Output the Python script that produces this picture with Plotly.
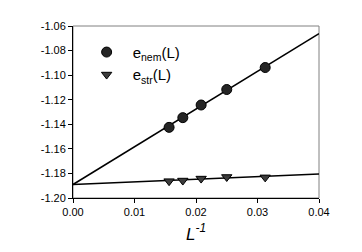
import plotly.graph_objects as go

inv_L = [1/64, 1/56, 1/48, 1/40, 1/32]
e_nem = [-1.1425, -1.1346, -1.1243, -1.1117, -1.0938]
e_str = [-1.1863, -1.1858, -1.1842, -1.1829, -1.1832]

fit_x = [0.0, 0.04]
fit_nem = [-1.1890, -1.0663]
fit_str = [-1.1890, -1.1805]

x_ticks = [0.00, 0.01, 0.02, 0.03, 0.04]
y_ticks = [-1.20, -1.18, -1.16, -1.14, -1.12, -1.10, -1.08, -1.06]

fig = go.Figure()
fig.add_trace(go.Scatter(x=fit_x, y=fit_nem, mode="lines",
                         line=dict(color="black", width=1.5), showlegend=False, hoverinfo="skip"))
fig.add_trace(go.Scatter(x=fit_x, y=fit_str, mode="lines",
                         line=dict(color="black", width=1.5), showlegend=False, hoverinfo="skip"))
fig.add_trace(go.Scatter(x=inv_L, y=e_nem, mode="markers", name="e<sub>nem</sub>(L)",
                         marker=dict(symbol="circle", size=10, color="#252525",
                                     line=dict(color="black", width=1))))
fig.add_trace(go.Scatter(x=inv_L, y=e_str, mode="markers", name="e<sub>str</sub>(L)",
                         marker=dict(symbol="triangle-down", size=9, color="#3c3c3c",
                                     line=dict(color="black", width=1))))

font = "Liberation Sans, Arial, sans-serif"
fig.update_layout(
    width=354, height=244,
    margin=dict(l=65, r=43, t=15, b=52),
    paper_bgcolor="white", plot_bgcolor="white",
    font=dict(family=font, size=11, color="black"),
    legend=dict(x=0.031, y=0.943, xanchor="left", yanchor="top",
                bgcolor="rgba(0,0,0,0)", font=dict(size=15, family=font),
                itemwidth=42),
    xaxis=dict(range=[0, 0.04], tickvals=x_ticks, ticktext=[f"{v:.2f}" for v in x_ticks],
               showgrid=False, zeroline=False, showline=True, linecolor="black", linewidth=1,
               ticks="outside", ticklen=4, tickcolor="black",
               title=dict(text="<i>L</i><sup><i>-1</i></sup>", font=dict(size=17, family=font), standoff=10)),
    yaxis=dict(range=[-1.20, -1.06], tickvals=y_ticks, ticktext=[f"{v:.2f}" for v in y_ticks],
               showgrid=False, zeroline=False, showline=True, linecolor="black", linewidth=1,
               ticks="outside", ticklen=4, tickcolor="black"),
    shapes=[dict(type="rect", xref="paper", yref="paper", x0=0, y0=0, x1=1, y1=1,
                 line=dict(color="#808080", width=1), layer="below")],
)
fig.write_html("out.html")
